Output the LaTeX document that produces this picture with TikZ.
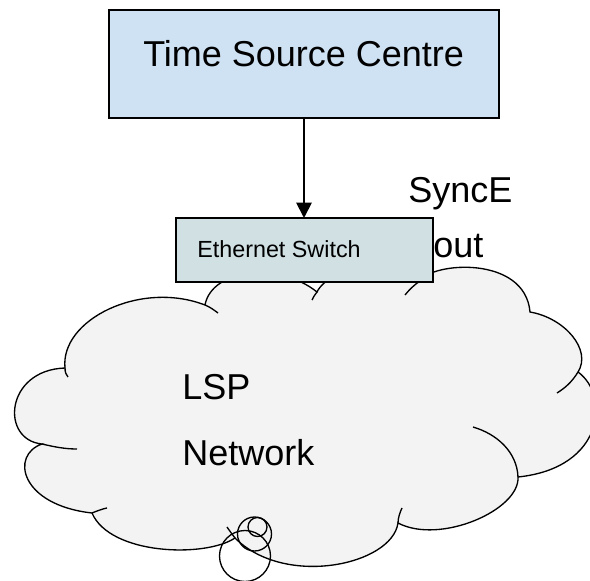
\documentclass[tikz,border=0pt]{standalone}
\usepackage{fontspec}
\setmainfont{Liberation Sans}
\usetikzlibrary{arrows.meta}
\definecolor{tscblue}{HTML}{CFE2F3}
\definecolor{swblue}{HTML}{D0E0E3}
\definecolor{cloudgray}{HTML}{F3F3F3}
\tikzset{
  boxstyle/.style={draw=black, line width=1.1pt, inner sep=0pt, outer sep=0pt},
  bigtext/.style={inner sep=0pt, anchor=base west, font=\fontsize{27}{32}\selectfont},
  smalltext/.style={inner sep=0pt, anchor=base west, font=\fontsize{17.5}{21}\selectfont},
  cloudline/.style={draw=black, line width=1pt},
}
\begin{document}
\begin{tikzpicture}[x=0.75pt, y=-0.75pt]
\useasboundingbox (0,0) rectangle (590,581);
% cloud body
\path[cloudline, fill=cloudgray]
  (42,444) .. controls (0,440) and (5,370) .. (65,368)
  .. controls (60,320) and (140,280) .. (205,305)
  .. controls (212,268) and (280,262) .. (317,292)
  .. controls (330,265) and (400,260) .. (420,281)
  .. controls (432,262) and (525,255) .. (530,312)
  .. controls (565,318) and (592,350) .. (578,372)
  .. controls (610,395) and (605,468) .. (518,477)
  .. controls (520,510) and (440,545) .. (398,523)
  .. controls (392,565) and (285,588) .. (235,538)
  .. controls (205,558) and (110,555) .. (92,513)
  .. controls (20,505) and (10,455) .. (42,444) -- cycle;
% inner tails of the cloud bumps
\draw[cloudline] (42,444) .. controls (55,447) and (65,449) .. (77,449);
\draw[cloudline] (65,368) .. controls (65,372) and (66,375) .. (68,377);
\draw[cloudline] (205,305) .. controls (210,307) and (214,310) .. (218,313);
\draw[cloudline] (317,292) .. controls (315,295) and (313,297) .. (312,300);
\draw[cloudline] (420,281) .. controls (414,285) and (409,290) .. (405,295);
\draw[cloudline] (578,372) .. controls (572,382) and (565,388) .. (557,393);
\draw[cloudline] (518,477) .. controls (517,452) and (497,434) .. (473,427);
\draw[cloudline] (398,523) .. controls (398,518) and (400,512) .. (402,508);
\draw[cloudline] (235,538) .. controls (232,534) and (229,530) .. (227,527);
\draw[cloudline] (92,513) .. controls (97,511) and (102,509) .. (107,508);
% small circles at the bottom
\draw[cloudline] (245,556) circle [radius=25.5];
\draw[cloudline] (254.5,534) circle [radius=17];
\draw[cloudline] (257.5,527) circle [radius=9.5];
% boxes
\node[boxstyle, fill=tscblue, minimum width=292.5pt, minimum height=81pt] (tsc) at (304,64) {};
\node[boxstyle, fill=swblue, minimum width=192.75pt, minimum height=48pt] (sw) at (304.5,250) {};
\draw[line width=1.4pt, -{Triangle[length=11.5pt,width=11.5pt]}] (tsc.south) -- (tsc.south |- sw.north);
% texts
\node[bigtext] (tsclabel) at (143,67) {Time Source Centre};
\node[smalltext] (swlabel) at (197,258) {Ethernet Switch};
\node[bigtext] (synce) at (408,203) {SyncE};
\node[bigtext] (out) at (433,258) {out};
\node[bigtext] (lsp) at (182,400) {LSP};
\node[bigtext] (network) at (182,465) {Network};
\end{tikzpicture}
\end{document}
